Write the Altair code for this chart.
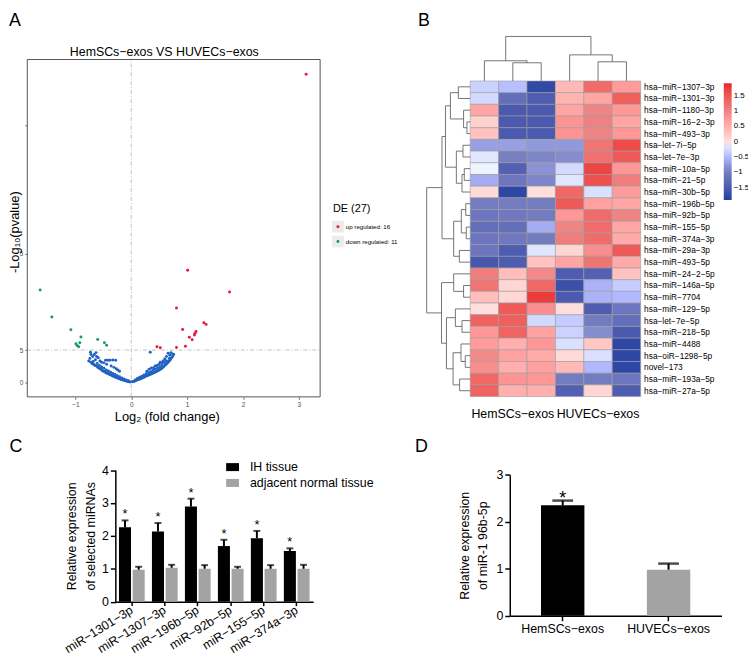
import altair as alt
import pandas as pd

FONT = "Liberation Sans"
ONE = pd.DataFrame({"k": [0]})

# whole figure is one layered view; each panel gets its own pixel ranges
W, H = 748, 660
OX, OY = -3.5, -2.5


def X(v):
    return v + OX


def Y(v):
    return v + OY


def txt(t, x, y, size, align="left", baseline="middle", color="black"):
    return alt.Chart(ONE).mark_text(text=t, fontSize=size, align=align, baseline=baseline,
                                    color=color, font=FONT).encode(
        x=alt.value(X(x)), y=alt.value(Y(y)))


# ---------------- Panel A : volcano plot ----------------
up_x = [3.13, 1.01, 1.76, 0.81, 1.30, 1.34, 0.92, 1.16, 1.14, 1.13, 1.04, 1.09, 0.97, 0.81, 0.46, 0.52]
up_y = [9.60, 3.49, 2.81, 2.31, 1.85, 1.80, 1.64, 1.58, 1.52, 1.47, 1.40, 1.32, 1.12, 1.08, 1.10, 1.07]
down_x = [-1.63, -1.42, -1.08, -0.90, -0.99, -0.97, -0.94, -0.92, -0.60, -0.48, -0.44]
down_y = [2.87, 2.03, 1.63, 1.41, 1.20, 1.14, 1.10, 1.23, 1.33, 1.23, 1.15]
blue_x = [
    -0.73, -0.72, -0.69, -0.74, -0.66, -0.63, -0.62, -0.64, -0.59, -0.56, -0.53, -0.49,
    -0.46, -0.42, -0.38, -0.33, -0.28, -0.44, -0.36, -0.31, -0.27, -0.24, -0.21,
    -0.76, -0.72, -0.70, -0.67, -0.65, -0.62, -0.60, -0.58, -0.56, -0.54, -0.52, -0.50,
    -0.48, -0.46, -0.44, -0.42, -0.40, -0.38, -0.36, -0.34, -0.32, -0.30, -0.28, -0.26,
    -0.24, -0.22, -0.20, -0.18, -0.16, -0.14, -0.12, -0.10, -0.08, -0.06, -0.04, -0.02,
    -0.68, -0.61, -0.57, -0.53, -0.49, -0.45, -0.41, -0.37, -0.33, -0.29, -0.25, -0.21,
    -0.17, -0.13, -0.09, -0.05,
    0.34, 0.74, 0.71, 0.69, 0.66, 0.63, 0.68, 0.60, 0.57, 0.55, 0.50, 0.46, 0.43, 0.40,
    0.36, 0.32, 0.28, 0.52, 0.62,
    0.02, 0.04, 0.06, 0.08, 0.10, 0.12, 0.14, 0.16, 0.18, 0.20, 0.22, 0.24, 0.26, 0.28,
    0.30, 0.32, 0.34, 0.36, 0.38, 0.40, 0.42, 0.44, 0.46, 0.48, 0.50, 0.52, 0.54, 0.56,
    0.58, 0.60, 0.62, 0.64, 0.66, 0.68, 0.70, 0.72, 0.74, 0.76,
    0.07, 0.11, 0.15, 0.19, 0.23, 0.27, 0.31, 0.35, 0.39, 0.43, 0.47, 0.51, 0.55, 0.59, 0.63,
]
blue_y = [
    0.93, 0.86, 0.80, 0.74, 0.86, 0.92, 0.80, 0.70, 0.76, 0.66, 0.62, 0.60,
    0.68, 0.68, 0.68, 0.69, 0.68, 0.56, 0.50, 0.46, 0.42, 0.38, 0.34,
    0.66, 0.62, 0.57, 0.55, 0.52, 0.50, 0.46, 0.44, 0.42, 0.40, 0.36, 0.34,
    0.33, 0.30, 0.28, 0.27, 0.25, 0.23, 0.22, 0.20, 0.18, 0.17, 0.15, 0.14,
    0.12, 0.11, 0.10, 0.08, 0.07, 0.06, 0.05, 0.04, 0.03, 0.02, 0.01, 0.005,
    0.64, 0.58, 0.52, 0.47, 0.43, 0.38, 0.35, 0.31, 0.27, 0.24, 0.20, 0.17,
    0.13, 0.10, 0.07, 0.04,
    0.93, 0.88, 0.92, 0.84, 0.90, 0.80, 0.74, 0.72, 0.66, 0.60, 0.56, 0.52, 0.50, 0.45,
    0.44, 0.40, 0.34, 0.62, 0.66,
    0.01, 0.02, 0.03, 0.05, 0.06, 0.08, 0.09, 0.10, 0.12, 0.13, 0.15, 0.16, 0.18, 0.20,
    0.21, 0.23, 0.24, 0.26, 0.27, 0.29, 0.30, 0.32, 0.34, 0.36, 0.38, 0.40, 0.42, 0.45,
    0.48, 0.52, 0.55, 0.58, 0.62, 0.66, 0.70, 0.75, 0.80, 0.86,
    0.07, 0.11, 0.15, 0.18, 0.22, 0.26, 0.29, 0.32, 0.36, 0.40, 0.44, 0.48, 0.52, 0.60, 0.66,
]
y_ticks_A = [0, 1, 4, 8]
de_labels = ["up regulated: 16", "down regulated: 11"]
A_XDOM = [-1.86, 3.38]
A_YDOM = [-0.46, 10.06]

RED_PT, GREEN_PT, BLUE_PT = "#e8173b", "#179a6a", "#1f62c2"

volc = pd.DataFrame({
    "log2fc": blue_x + down_x + up_x,
    "nlp": blue_y + down_y + up_y,
    "grp": ["ns"] * len(blue_x) + ["down"] * len(down_x) + ["up"] * len(up_x),
})

axA = dict(domain=False, grid=False, tickSize=2.5, tickColor="#4d4d4d", tickWidth=0.8,
           labelFontSize=6.5, labelColor="#4d4d4d", labelPadding=2,
           titleFontSize=13, titleFontWeight="normal", titleColor="black")

xA = alt.X("log2fc:Q",
           scale=alt.Scale(domain=A_XDOM, range=[X(23), X(319)], nice=False, zero=False),
           axis=alt.Axis(orient="bottom", offset=Y(392) - H, values=[-1, 0, 1, 2, 3], format="d",
                         title="Log₂ (fold change)", titleX=X(164), titleY=20,
                         titleBaseline="middle", titleAlign="center", **axA))
yA = alt.Y("nlp:Q",
           scale=alt.Scale(domain=A_YDOM, range=[Y(392), Y(51)], nice=False, zero=False),
           axis=alt.Axis(orient="left", offset=-X(23), values=y_ticks_A,
                         labelExpr="datum.value == 0 ? '0' : (datum.value == 8 ? '' : '5')",
                         title="-Log₁₀(pvalue)", titleX=-6, titleY=Y(225), titleAngle=-90,
                         titleBaseline="bottom", titleAlign="center", **axA))

pts = alt.Chart(volc).mark_circle(size=9, opacity=1).encode(
    x=xA, y=yA,
    color=alt.Color("grp:N", scale=alt.Scale(domain=["up", "down", "ns"],
                                            range=[RED_PT, GREEN_PT, BLUE_PT]), legend=None))
frameA = alt.Chart(ONE).mark_rect(fillOpacity=0, stroke="#555555", strokeWidth=1).encode(
    x=alt.datum(A_XDOM[0]), x2=alt.datum(A_XDOM[1]), y=alt.datum(A_YDOM[0]), y2=alt.datum(A_YDOM[1]))
vline = alt.Chart(ONE).mark_rule(color="#b0b0b0", strokeDash=[4, 2, 1, 2], strokeWidth=0.8).encode(
    x=alt.datum(0.0), y=alt.datum(A_YDOM[0]), y2=alt.datum(A_YDOM[1]))
hline = alt.Chart(ONE).mark_rule(color="#b0b0b0", strokeDash=[4, 2, 1, 2], strokeWidth=0.8).encode(
    y=alt.datum(1.0), x=alt.datum(A_XDOM[0]), x2=alt.datum(A_XDOM[1]))

legSq1 = alt.Chart(ONE).mark_square(size=140, color="#ebebeb", opacity=1).encode(
    x=alt.value(X(337)), y=alt.value(Y(220)))
legSq2 = alt.Chart(ONE).mark_square(size=140, color="#ebebeb", opacity=1).encode(
    x=alt.value(X(337)), y=alt.value(Y(235)))
legDot1 = alt.Chart(ONE).mark_circle(size=9, color=RED_PT, opacity=1).encode(
    x=alt.value(X(337)), y=alt.value(Y(220)))
legDot2 = alt.Chart(ONE).mark_circle(size=9, color=GREEN_PT, opacity=1).encode(
    x=alt.value(X(337)), y=alt.value(Y(235)))

panelA = alt.layer(
    vline, hline, pts, frameA,
    txt("A", 4.5, 2.7, 18, baseline="top"),
    txt("HemSCs−exos VS HUVECs−exos", 161.5, 43, 12.5, align="center"),
    txt("DE (27)", 332, 202, 11),
    legSq1, legSq2, legDot1, legDot2,
    txt(de_labels[0], 345, 220, 6.2), txt(de_labels[1], 345, 235, 6.2),
)

# ---------------- Panel B : heatmap ----------------
mirnas = ["hsa−miR−1307−3p", "hsa−miR−1301−3p", "hsa−miR−1180−3p", "hsa−miR−16−2−3p",
          "hsa−miR−493−3p", "hsa−let−7i−5p", "hsa−let−7e−3p", "hsa−miR−10a−5p",
          "hsa−miR−21−5p", "hsa−miR−30b−5p", "hsa−miR−196b−5p", "hsa−miR−92b−5p",
          "hsa−miR−155−5p", "hsa−miR−374a−3p", "hsa−miR−29a−3p", "hsa−miR−493−5p",
          "hsa−miR−24−2−5p", "hsa−miR−146a−5p", "hsa−miR−7704", "hsa−miR−129−5p",
          "hsa−let−7e−5p", "hsa−miR−218−5p", "hsa−miR−4488", "hsa−oiR−1298−5p",
          "novel−173", "hsa−miR−193a−5p", "hsa−miR−27a−5p"]
samples = ["HemSCs1", "HemSCs2", "HemSCs3", "HUVECs1", "HUVECs2", "HUVECs3"]
z_HemSCs1 = [-0.30, -0.25, 0.60, 0.15, 0.30, -0.70, -0.15, -0.05, -0.60, 0.05, -1.00, -1.10, -1.20,
             -1.10, -1.10, -1.55, 1.05, 1.15, 0.35, 0.00, 1.35, 0.75, 0.70, 0.90, 0.85, 1.30, 1.35]
z_HemSCs2 = [-0.45, -1.20, -1.50, -1.50, -1.50, -0.70, -0.95, -1.40, -1.10, -1.80, -1.00, -1.05, -1.20,
             -1.05, -1.45, -1.45, 0.35, 0.10, 0.08, 1.45, 1.40, 1.35, 0.50, 0.65, 0.50, 0.80, 0.50]
z_HemSCs3 = [-1.75, -1.45, -1.50, -1.50, -1.50, -0.75, -0.90, -0.80, -0.90, 0.00, -1.00, -1.00, -0.60,
             -1.00, -0.15, 0.30, 0.90, 1.30, 1.75, 0.85, -0.25, 0.65, 0.75, 0.55, 0.65, 0.75, 0.50]
z_HUVECs1 = [0.40, 0.45, 0.60, 0.80, 0.80, -0.75, -0.85, -0.25, -0.15, 1.30, 1.45, 0.75, 0.95,
             1.05, 0.10, 0.60, -1.45, -1.65, -1.50, 0.00, -0.35, -0.30, -0.20, 0.05, 0.40, -1.00, -1.40]
z_HUVECs2 = [1.25, 0.60, 0.95, 1.00, 0.95, 1.15, 1.20, 1.65, 1.55, -0.20, 0.65, 1.25, 1.25,
             1.25, 0.85, 1.15, -1.40, -0.55, -0.55, -1.45, -1.00, -0.85, 0.25, -0.20, -0.50, -1.00, 0.10]
z_HUVECs3 = [0.70, 1.40, 0.75, 0.60, 0.75, 1.60, 1.45, 0.75, 1.05, 0.70, 0.60, 0.95, 0.60,
             0.55, 1.45, 0.55, 0.30, -0.35, -0.50, -1.10, -1.20, -1.50, -1.80, -1.80, -1.80, -1.10, -1.45]
z_cols = [z_HemSCs1, z_HemSCs2, z_HemSCs3, z_HUVECs1, z_HUVECs2, z_HUVECs3]

# dendrograms: (left, right, merge height in px)
col_tree = ((0, (1, 2, 18.4), 20.4), (3, (4, 5, 19.4), 26.4), 45.0)
row_tree = (
    ((((0, 1, 12.0), (2, (3, 4, 3.3), 6.7), 20.0),
      ((5, 6, 7.3), ((7, 8, 6.0), 9, 8.3), 14.0), 25.0),
     ((((10, 11, 4.5), (12, 13, 4.0), 9.0), (14, 15, 11.0), 16.7)), 28.5),
    ((16, (17, 18, 6.7), 16.7),
     ((19, (20, 21, 8.3), 15.0), ((22, (23, 24, 5.0), 9.3), (25, 26, 10.7), 17.3), 24.0), 29.0),
    44.0)


def tree_segments(node, out):
    if isinstance(node, int):
        return float(node), 0.0
    left, right, h = node
    pl, hl = tree_segments(left, out)
    pr, hr = tree_segments(right, out)
    out.append((pl, hl, pl, h))
    out.append((pr, hr, pr, h))
    out.append((pl, h, pr, h))
    return (pl + pr) / 2, h


cs = []
tree_segments(col_tree, cs)
col_seg = pd.DataFrame(cs, columns=["p1", "h1", "p2", "h2"])
rs = []
tree_segments(row_tree, rs)
row_seg = pd.DataFrame(rs, columns=["p1", "h1", "p2", "h2"])

HM_L, HM_R, HM_T, HM_B = 470.7, 643.0, 72.7, 391.7
DEND = "#666666"

heat_df = pd.DataFrame([{"sample": s, "mirna": m, "z": z_cols[j][i]}
                        for j, s in enumerate(samples) for i, m in enumerate(mirnas)])

heat = alt.Chart(heat_df).mark_rect(stroke="#9c9c9c", strokeWidth=0.6).encode(
    x=alt.X("sample:N", sort=samples,
            scale=alt.Scale(range=[X(HM_L), X(HM_R)], paddingInner=0, paddingOuter=0),
            axis=alt.Axis(orient="bottom", offset=Y(HM_B) - H, title=None, ticks=False,
                          domain=False, labelAngle=0,
                          labelExpr="datum.value == 'HemSCs2' ? 'HemSCs−exos' : (datum.value == 'HUVECs2' ? 'HUVECs−exos' : '')",
                          labelFontSize=12.5, labelPadding=11, labelOverlap=False, labelColor="black")),
    y=alt.Y("mirna:N", sort=mirnas,
            scale=alt.Scale(range=[Y(HM_T), Y(HM_B)], paddingInner=0, paddingOuter=0),
            axis=alt.Axis(orient="right", offset=X(HM_R) - W, title=None, ticks=False,
                          domain=False, labelFontSize=8.4, labelPadding=3, labelColor="black")),
    color=alt.Color("z:Q",
                    scale=alt.Scale(domain=[-1.9, -0.95, 0, 0.95, 1.9],
                                    range=["#2140a0", "#7880c2", "#ffffff", "#ee8585", "#e8272a"]),
                    legend=alt.Legend(orient="none", legendX=X(727), legendY=Y(75), title=None,
                                      direction="vertical", gradientLength=118,
                                      gradientThickness=8, gradientStrokeWidth=0,
                                      values=[1.5, 1, 0.5, 0, -0.5, -1, -1.5], format=".1~f",
                                      labelFontSize=8, labelOffset=2, labelOverlap=False,
                                      labelColor="black", padding=0)),
)

col_dend = alt.Chart(col_seg).mark_rule(color=DEND, strokeWidth=0.9).encode(
    x=alt.X("p1:Q", scale=alt.Scale(domain=[-0.5, 5.5], range=[X(HM_L), X(HM_R)],
                                    nice=False, zero=False), axis=None),
    x2="p2:Q",
    y=alt.Y("h1:Q", scale=alt.Scale(domain=[0, 45.7], range=[Y(HM_T), Y(27.0)],
                                    nice=False, zero=False), axis=None),
    y2="h2:Q")

row_dend = alt.Chart(row_seg).mark_rule(color=DEND, strokeWidth=0.9).encode(
    y=alt.Y("p1:Q", scale=alt.Scale(domain=[-0.5, 26.5], range=[Y(HM_T), Y(HM_B)],
                                    nice=False, zero=False), axis=None),
    y2="p2:Q",
    x=alt.X("h1:Q", scale=alt.Scale(domain=[0, 46.7], range=[X(HM_L), X(424.0)],
                                    nice=False, zero=False), axis=None),
    x2="h2:Q")

panelB = alt.layer(heat, col_dend, row_dend, txt("B", 418, 2.7, 18, baseline="top")).resolve_scale(
    x="independent", y="independent")

# ---------------- Panel C : grouped bars ----------------
c_mirna = ["miR−1301−3p", "miR−1307−3p", "miR−196b−5p", "miR−92b−5p", "miR−155−5p", "miR−374a−3p"]
tissues = ["IH tissue", "adjacent normal tissue"]
ih_mean = [2.26, 2.13, 2.89, 1.69, 1.93, 1.54]
ih_top = [2.47, 2.39, 3.13, 1.88, 2.15, 1.62]
adj_mean = [0.97, 1.03, 1.00, 1.00, 1.00, 1.00]
adj_top = [1.06, 1.12, 1.11, 1.06, 1.11, 1.12]

c_df = pd.DataFrame({
    "mirna": c_mirna + c_mirna,
    "tissue": [tissues[0]] * 6 + [tissues[1]] * 6,
    "mean": ih_mean + adj_mean,
    "top": ih_top + adj_top,
})

axCD = dict(domainColor="black", domainWidth=1.5, tickColor="black", tickWidth=1.5, tickSize=5,
            labelFontSize=12.5, labelColor="black", titleFontSize=12.5, titleColor="black",
            titleFontWeight="normal", grid=False, labelPadding=2)

xC = alt.X("mirna:N", sort=c_mirna,
           scale=alt.Scale(range=[X(112), X(312)], paddingInner=0.22, paddingOuter=0.11),
           axis=alt.Axis(orient="bottom", offset=Y(599) - H, title=None, labelAngle=-32,
                         labelAlign="right", labelBaseline="middle",
                         **{**axCD, "tickSize": 4, "labelPadding": 3}))
xoC = alt.XOffset("tissue:N", sort=tissues, scale=alt.Scale(paddingInner=0.12, paddingOuter=0))
yC = alt.Y("mean:Q", scale=alt.Scale(domain=[0, 4], range=[Y(599), Y(466)], nice=False, zero=True),
           axis=alt.Axis(orient="left", offset=-X(112), values=[0, 1, 2, 3, 4], format="d",
                         title=["Relative expression", "of selected miRNAs"],
                         titlePadding=4, titleLineHeight=19, **axCD))

barsC = alt.Chart(c_df).mark_bar().encode(
    x=xC, xOffset=xoC, y=yC,
    color=alt.Color("tissue:N", sort=tissues,
                    scale=alt.Scale(domain=tissues, range=["#000000", "#a3a3a3"]),
                    legend=alt.Legend(orient="none", legendX=X(224), legendY=Y(456.5), title=None,
                                      symbolType="M-1,-0.62L1,-0.62L1,0.62L-1,0.62Z",
                                      symbolSize=169, symbolStrokeWidth=0, labelFontSize=12.5,
                                      labelOffset=11, rowPadding=3, labelColor="black", padding=0)))
errC = alt.Chart(c_df).mark_rule(color="black", strokeWidth=2).encode(
    x=xC, xOffset=xoC, y="mean:Q", y2="top:Q")
capC = alt.Chart(c_df).mark_tick(color="black", thickness=2, size=7).encode(
    x=xC, xOffset=xoC, y="top:Q")
starC = alt.Chart(c_df).transform_filter(alt.datum.tissue == tissues[0]).mark_text(
    text="*", fontSize=13, baseline="alphabetic", dy=-2, color="black").encode(
    x=xC, xOffset=xoC, y="top:Q")

panelC = alt.layer(barsC, errC, capC, starC, txt("C", 5, 433.5, 18, baseline="top"))

# ---------------- Panel D : two bars ----------------
d_groups = ["HemSCs−exos", "HUVECs−exos"]
d_mean = [2.35, 0.98]
d_top = [2.45, 1.11]
d_df = pd.DataFrame({"grp": d_groups, "mean": d_mean, "top": d_top})

xD = alt.X("grp:N", sort=d_groups,
           scale=alt.Scale(range=[X(510.7), X(724.7)], paddingInner=0.59, paddingOuter=0.295),
           axis=alt.Axis(orient="bottom", offset=Y(613.3) - H, title=None, labelAngle=0, **axCD))
yD = alt.Y("mean:Q", scale=alt.Scale(domain=[0, 3], range=[Y(613.3), Y(470.7)], nice=False, zero=True),
           axis=alt.Axis(orient="left", offset=-X(510.7), values=[0, 1, 2, 3], format="d",
                         title=["Relative expression", "of miR-1 96b-5p"],
                         titlePadding=7, titleLineHeight=18, **axCD))
barsD = alt.Chart(d_df).mark_bar().encode(
    x=xD, y=yD,
    color=alt.Color("grp:N", scale=alt.Scale(domain=d_groups, range=["#000000", "#a3a3a3"]),
                    legend=None))
errD = alt.Chart(d_df).mark_rule(color="black", strokeWidth=2).encode(x=xD, y="mean:Q", y2="top:Q")
capD = alt.Chart(d_df).mark_tick(color="black", thickness=2.5, size=21).encode(x=xD, y="top:Q")
starD = alt.Chart(d_df).transform_filter(alt.datum.grp == d_groups[0]).mark_text(
    text="*", fontSize=18, baseline="alphabetic", dy=3, color="black").encode(x=xD, y="top:Q")

panelD = alt.layer(barsD, errD, capD, starD, txt("D", 415, 433.5, 18, baseline="top"))

# ---------------- assemble ----------------
chart = alt.layer(panelA, panelB, panelC, panelD).resolve_scale(
    x="independent", y="independent", color="independent"
).resolve_axis(x="independent", y="independent").resolve_legend(color="independent").properties(
    width=W, height=H, padding=0, autosize=alt.AutoSizeParams(type="none")
).configure(font=FONT).configure_view(stroke="transparent")

chart.save("out.html", embed_options={"renderer": "svg", "actions": False})
